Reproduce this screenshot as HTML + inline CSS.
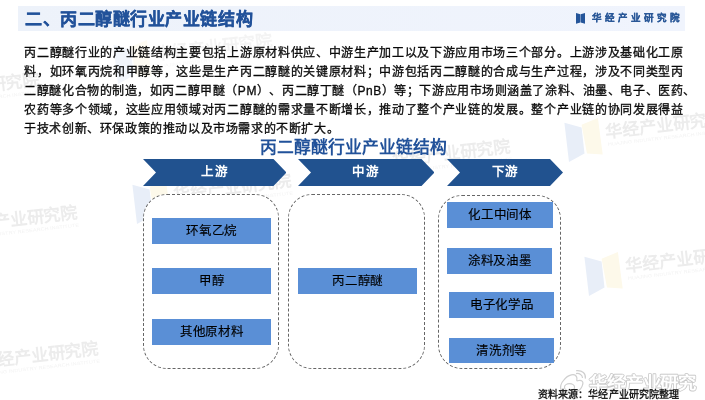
<!DOCTYPE html>
<html lang="zh-CN">
<head>
<meta charset="utf-8">
<style>
html,body{margin:0;padding:0;}
body{width:705px;height:400px;position:relative;overflow:hidden;background:#fff;-webkit-font-smoothing:antialiased;font-family:"Liberation Sans",sans-serif;color:#111;}
.abs{position:absolute;}
svg{display:block;}
#hdr{left:18px;top:6px;width:667px;height:25px;background:linear-gradient(90deg,#edf2fa 0%,#f0f4fd 100%);}
#title{left:25px;top:5px;font-size:17px;letter-spacing:0.55px;font-weight:bold;color:#22529a;-webkit-text-stroke:0.3px #22529a;white-space:nowrap;line-height:30px;}
#brand{left:592px;top:10px;font-size:9.5px;font-weight:bold;color:#2a5898;-webkit-text-stroke:0.25px #2a5898;letter-spacing:3px;white-space:nowrap;line-height:16px;}
#para{left:24.3px;top:44px;font-size:12px;font-weight:500;-webkit-text-stroke:0.3px #000;letter-spacing:0.68px;line-height:19px;color:#111;}
.pl{white-space:nowrap;height:19px;text-spacing-trim:space-all;}
#l3{letter-spacing:0.56px;}
#l5{letter-spacing:0.6px;}
#dtitle{left:260px;top:136px;font-size:16.8px;font-weight:bold;color:#22529a;white-space:nowrap;line-height:24px;}
.chev{position:absolute;top:159px;height:27px;}
.chev svg{display:block;}
.chev span{position:absolute;left:0;right:0;top:0;line-height:27px;text-align:center;color:#fff;font-weight:bold;font-size:12.5px;letter-spacing:0.8px;text-indent:0.8px;}
.dbox{position:absolute;background:#fff;border:1.2px dashed #666;border-radius:24px;box-sizing:border-box;}
.bb{position:absolute;background:#5a8fd6;font-size:12.5px;letter-spacing:-0.4px;text-indent:0.4px;font-weight:500;-webkit-text-stroke:0.15px #000;line-height:27.5px;text-align:center;color:#000;}
#src{left:537.5px;top:387px;font-size:10px;letter-spacing:0.15px;font-weight:bold;color:#222;white-space:nowrap;line-height:16px;}
</style>
</head>
<body>
<div id="root" style="position:absolute;left:0;top:0;width:705px;height:400px;will-change:transform;">
<svg class="abs" style="left:0;top:0;" width="705" height="400" viewBox="0 0 705 400">
<defs>
<g id="wml">
<path d="M0.4 4.8 L17.6 9.6 L20.5 35.5 L5 44Z" fill="#e8eef8"/>
<path d="M17.6 6.7 L33.9 0 L38.7 36.4 L23 35.5Z" fill="#fdf9ea"/>
</g>
<g id="wmt">
<g transform="rotate(-6.5 42 20)">
<text x="42" y="20" font-size="17" font-weight="bold" fill="#ececec" font-family="Liberation Sans, sans-serif">华经产业研究院</text>
<text x="43" y="28" font-size="4.6" fill="#f3f3f3" textLength="118" lengthAdjust="spacingAndGlyphs" font-family="Liberation Sans, sans-serif">HUAJING INDUSTRY RESEARCH INSTITUTE</text>
</g>
</g>
<g id="wm"><use href="#wml"/><use href="#wmt"/></g>
</defs>
<use href="#wm" x="584" y="252"/>
<use href="#wm" x="564" y="118"/>
<use href="#wm" x="113" y="40" opacity="0.6"/>
<use href="#wm" x="-120" y="79"/>
<use href="#wm" x="-82" y="212"/>
<use href="#wm" x="-61" y="348"/>
<use href="#wmt" x="351" y="146"/>
<use href="#wm" x="132" y="180"/>
</svg>
<div id="hdr" class="abs"></div>
<div id="title" class="abs">二、丙二醇醚行业产业链结构</div>
<div class="abs" style="left:576px;top:13px;width:9px;height:11px;">
<svg width="9" height="11" viewBox="0 0 9 11"><path d="M0 0 L4.3 1.3 L4.3 9.5 L0 10.8Z M4.7 1.3 L9 0 L9 10.8 L4.7 9.5Z" fill="#24559a"/></svg>
</div>
<div id="brand" class="abs">华经产业研究院</div>

<div id="para" class="abs">
<div class="pl" id="l1">丙二醇醚行业的产业链结构主要包括上游原材料供应、中游生产加工以及下游应用市场三个部分。上游涉及基础化工原</div>
<div class="pl" id="l2">料，如环氧丙烷和甲醇等，这些是生产丙二醇醚的关键原材料；中游包括丙二醇醚的合成与生产过程，涉及不同类型丙</div>
<div class="pl" id="l3">二醇醚化合物的制造，如丙二醇甲醚（PM）、丙二醇丁醚（PnB）等；下游应用市场则涵盖了涂料、油墨、电子、医药、</div>
<div class="pl" id="l4">农药等多个领域，这些应用领域对丙二醇醚的需求量不断增长，推动了整个产业链的发展。整个产业链的协同发展得益</div>
<div class="pl" id="l5">于技术创新、环保政策的推动以及市场需求的不断扩大。</div>
</div>

<div id="dtitle" class="abs">丙二醇醚行业产业链结构</div>

<div class="chev" style="left:142.5px;width:143.5px;">
<svg width="143.5" height="27" viewBox="0 0 143.5 27"><path d="M0 0 H130.5 L143.5 13.5 L130.5 27 H0 L13 13.5Z" fill="#21528f"/></svg>
<span>上游</span></div>
<div class="chev" style="left:297.5px;width:136.5px;">
<svg width="136.5" height="27" viewBox="0 0 136.5 27"><path d="M0 0 H123.5 L136.5 13.5 L123.5 27 H0 L13 13.5Z" fill="#21528f"/></svg>
<span>中游</span></div>
<div class="chev" style="left:447px;width:116px;">
<svg width="116" height="27" viewBox="0 0 116 27"><path d="M0 0 H103 L116 13.5 L103 27 H0 L13 13.5Z" fill="#21528f"/></svg>
<span>下游</span></div>

<div class="dbox" style="left:143px;top:194px;width:136px;height:175px;"></div>
<div class="dbox" style="left:288px;top:194px;width:137px;height:175px;"></div>
<div class="dbox" style="left:438px;top:195px;width:123px;height:174px;"></div>

<div class="bb" style="left:152px;top:218px;width:119px;height:25.5px;">环氧乙烷</div>
<div class="bb" style="left:152px;top:268px;width:119px;height:25.5px;">甲醇</div>
<div class="bb" style="left:152px;top:319px;width:119px;height:25.5px;">其他原材料</div>

<div class="bb" style="left:298px;top:268px;width:119px;height:25.5px;">丙二醇醚</div>

<div class="bb" style="left:447px;top:202px;width:105.5px;height:25.5px;">化工中间体</div>
<div class="bb" style="left:447px;top:248px;width:105px;height:25.5px;">涂料及油墨</div>
<div class="bb" style="left:449px;top:292px;width:105px;height:25.5px;">电子化学品</div>
<div class="bb" style="left:449px;top:338px;width:105px;height:25px;">清洗剂等</div>

<svg class="abs" style="left:555px;top:362px;" width="150" height="38" viewBox="0 0 150 38">
<g fill="none" stroke="#cfcfcf" stroke-width="1.6" transform="translate(3 8) scale(0.72)">
<path d="M8 14 C14 6 24 4 26 10 C27 13 25 15 27 15 C33 13 36 16 34 21 C32 29 22 33 14 32 C6 31 2 27 4 21 C5 18 6 16 8 14Z"/>
<ellipse cx="16" cy="24" rx="7" ry="5"/>
<path d="M25 5 C30 4 34 7 34 11"/>
<path d="M25 1 C34 0 39 5 38 12"/>
</g>
<text x="34" y="27" font-size="17.5" font-weight="bold" fill="#ffffff" stroke="#c8c8c8" stroke-width="1.6" paint-order="stroke" stroke-linejoin="round" font-family="Liberation Sans, sans-serif" textLength="107" lengthAdjust="spacingAndGlyphs">华经产业研究</text>
</svg>
<div id="src" class="abs">资料来源：华经产业研究院整理</div>
</div>
</body>
</html>
